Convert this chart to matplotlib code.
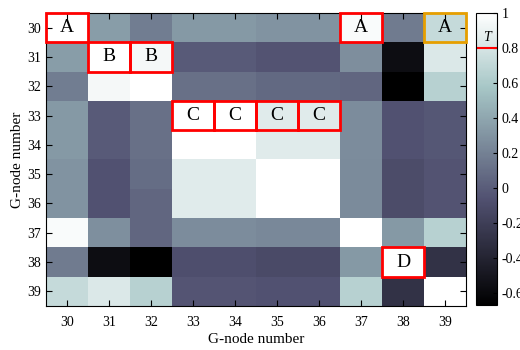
import numpy as np
import matplotlib.pyplot as plt
import matplotlib.patches as patches

plt.rcParams['font.family'] = ['Liberation Serif', 'DejaVu Serif']

nodes = [30, 31, 32, 33, 34, 35, 36, 37, 38, 39]

# correlation values, rows = G-node 30..39, cols = G-node 30..39
corr = [
    [1.00, 0.35, 0.18, 0.33, 0.33, 0.30, 0.30, 0.97, 0.17, 0.72],
    [0.35, 1.00, 0.95, -0.01, -0.01, -0.05, -0.05, 0.27, -0.57, 0.83],
    [0.18, 0.95, 1.00, 0.11, 0.11, 0.07, 0.07, 0.06, -0.67, 0.66],
    [0.33, -0.01, 0.11, 1.00, 1.00, 0.85, 0.85, 0.26, -0.06, -0.03],
    [0.33, -0.01, 0.11, 1.00, 1.00, 0.85, 0.85, 0.26, -0.06, -0.03],
    [0.30, -0.06, 0.09, 0.85, 0.85, 1.00, 1.00, 0.25, -0.10, -0.05],
    [0.30, -0.06, 0.06, 0.85, 0.85, 1.00, 1.00, 0.25, -0.10, -0.05],
    [0.97, 0.28, 0.06, 0.26, 0.26, 0.24, 0.24, 1.00, 0.33, 0.66],
    [0.17, -0.57, -0.67, -0.08, -0.08, -0.11, -0.11, 0.33, 1.00, -0.29],
    [0.72, 0.83, 0.66, -0.04, -0.04, -0.06, -0.06, 0.66, -0.29, 1.00],
]

# boxed cells: (row node, col node, letter, colour)
boxes = [
    (30, 30, 'A', 'red'),
    (30, 37, 'A', 'red'),
    (30, 39, 'A', '#E69F00'),
    (31, 31, 'B', 'red'),
    (31, 32, 'B', 'red'),
    (33, 33, 'C', 'red'),
    (33, 34, 'C', 'red'),
    (33, 35, 'C', 'red'),
    (33, 36, 'C', 'red'),
    (38, 38, 'D', 'red'),
]

threshold = 0.8
cbar_ticks = [-0.6, -0.4, -0.2, 0, 0.2, 0.4, 0.6, 0.8, 1]
cbar_labels = ['-0.6', '-0.4', '-0.2', '0', '0.2', '0.4', '0.6', '0.8', '1']

vmin, vmax = -0.67, 1.0

fig = plt.figure(figsize=(5.2, 3.5), dpi=100)
ax = fig.add_axes([46/520, 1-306/350, 420/520, 293/350])
im = ax.imshow(np.array(corr), cmap='bone', vmin=vmin, vmax=vmax,
               extent=[nodes[0]-0.5, nodes[-1]+0.5, nodes[-1]+0.5, nodes[0]-0.5],
               aspect='auto', interpolation='nearest')
ax.set_xticks(nodes)
ax.set_yticks(nodes)
ax.tick_params(direction='in', top=True, right=True, labelsize=10, length=4)
ax.tick_params(axis='x', pad=7)
ax.set_xlabel('G-node number', fontsize=11, labelpad=3)
ax.set_ylabel('G-node number', fontsize=11, labelpad=2)

for r, c, txt, col in boxes:
    ax.add_patch(patches.Rectangle((c-0.5, r-0.5), 1, 1, fill=False,
                                   ec=col, lw=2, clip_on=False, zorder=3))
    ax.text(c, r, txt, ha='center', va='center', fontsize=14, zorder=4)

# colorbar
cax = fig.add_axes([476/520, 1-305/350, 21/520, 292/350])
cb = fig.colorbar(im, cax=cax)
cb.set_ticks(cbar_ticks)
cb.set_ticklabels(cbar_labels)
cax.tick_params(direction='in', labelsize=10, length=3)
cax.axhline(threshold, color='red', lw=1.5)
cax.text(0.5, threshold + 0.02, 'T', transform=cax.get_yaxis_transform(),
         ha='center', va='bottom', fontsize=10, style='italic')

fig.savefig('out.png', dpi=100)
